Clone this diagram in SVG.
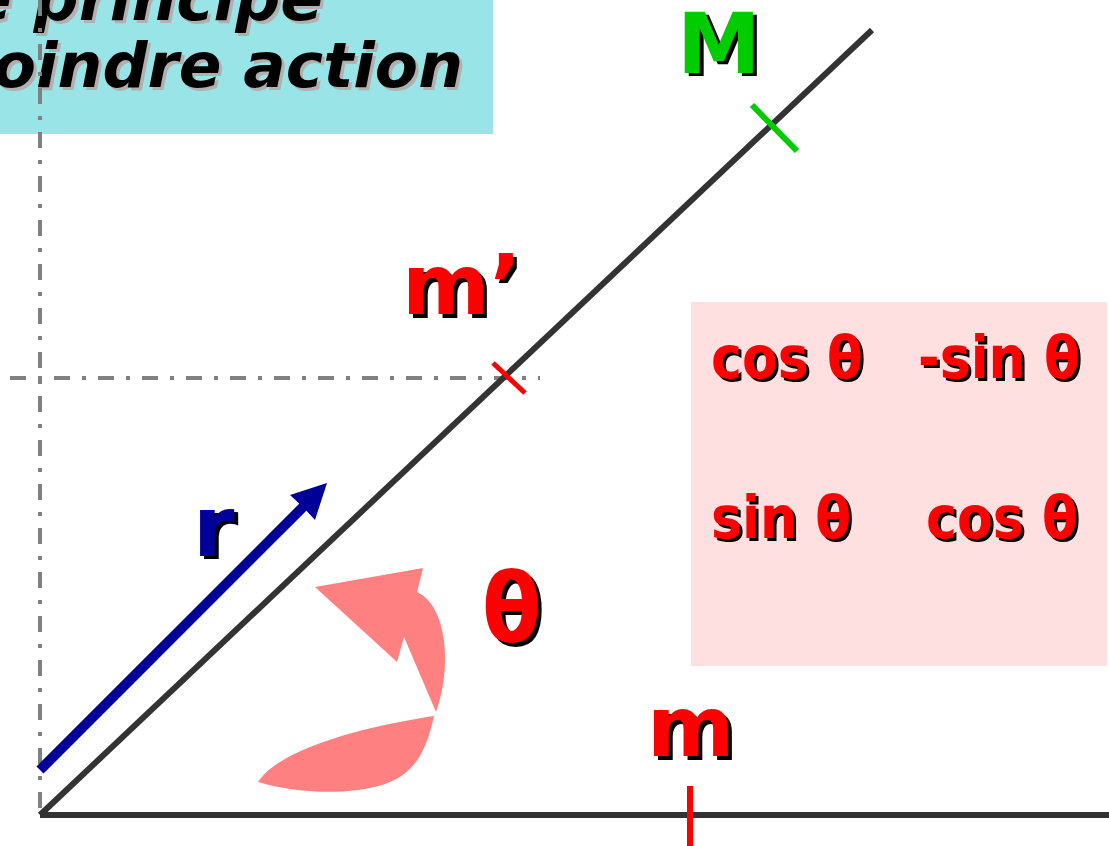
<svg xmlns="http://www.w3.org/2000/svg" width="1109" height="846" viewBox="0 0 1109 846">
<style>
.t{font-family:"DejaVu Sans","Liberation Sans",sans-serif;font-weight:bold}
.c{font-family:"DejaVu Sans Condensed","DejaVu Sans","Liberation Sans Narrow",sans-serif;font-weight:bold}
.title{font-style:oblique;font-size:63px}
.lab{font-size:84px}
.mx{font-size:58px}
.sh{fill:#000}
.red{fill:#FF0000}
.dd{stroke:#808080;stroke-width:4;stroke-dasharray:16 12 4 12;fill:none}
.ax{stroke:#333333;stroke-width:6;fill:none}
</style>
<rect width="1109" height="846" fill="#FFFFFF"/>
<g id="title">
<rect x="0" y="0" width="493" height="134" fill="#98E4E6"/>
<text class="t title" x="326" y="23" text-anchor="end" fill="#B0B0B0">e principe</text>
<text class="t title" x="323" y="20" text-anchor="end" fill="#000">e principe</text>
<text class="t title" x="466" y="90" text-anchor="end" fill="#B0B0B0">oindre action</text>
<text class="t title" x="463" y="87" text-anchor="end" fill="#000">oindre action</text>
</g>
<g id="matrix">
<rect x="691" y="302" width="416" height="364" fill="#FFE0E0"/>
<text class="c mx sh" x="714" y="381">cos θ</text>
<text class="c mx red" x="711" y="378">cos θ</text>
<text class="c mx sh" x="921" y="381">-sin θ</text>
<text class="c mx red" x="918" y="378">-sin θ</text>
<text class="c mx sh" x="714" y="541">sin θ</text>
<text class="c mx red" x="711" y="538">sin θ</text>
<text class="c mx sh" x="929" y="541">cos θ</text>
<text class="c mx red" x="926" y="538">cos θ</text>
</g>
<g id="connectors">
<line class="dd" x1="40" y1="0" x2="40" y2="815"/>
<line class="dd" x1="10" y1="378" x2="540" y2="378"/>
<line class="ax" x1="40" y1="815" x2="1109" y2="815"/>
<line class="ax" x1="40" y1="815" x2="872" y2="30"/>
<line x1="40" y1="770" x2="306" y2="504" stroke="#000099" stroke-width="10"/>
<polygon points="327,483 315,520 303,507 290,495" fill="#000099"/>
</g>
<g id="angle">
<path d="M434,716 C380,724 282,745 258,782 C290,792 345,797 385,784 C415,773 426,752 434,716 Z" fill="#FF8080"/>
<path d="M436,712 C452,670 448,606 417,592 L423,568 L315,587 L397,662 L404,637 Z" fill="#FF8080"/>
<text class="c sh" x="486" y="646" font-size="96">θ</text>
<text class="c red" x="482" y="642" font-size="96">θ</text>
</g>
<g id="point-M">
<line x1="752" y1="105" x2="797" y2="151" stroke="#00CC00" stroke-width="6"/>
<text class="t lab sh" x="681" y="76">M</text>
<text class="t lab" x="677" y="73" fill="#00CC00">M</text>
</g>
<g id="point-m-prime">
<line x1="493" y1="363" x2="525" y2="393" stroke="#FF0000" stroke-width="5"/>
<text class="t lab sh" x="406" y="318">m’</text>
<text class="t lab red" x="402" y="314">m’</text>
</g>
<g id="point-m">
<line x1="690" y1="786" x2="690" y2="846" stroke="#FF0000" stroke-width="6"/>
<text class="t lab sh" x="651" y="760">m</text>
<text class="t lab red" x="647" y="756">m</text>
</g>
<g id="label-r">
<text class="t lab sh" x="197" y="559">r</text>
<text class="t lab" x="193" y="556" fill="#000099">r</text>
</g>
</svg>
